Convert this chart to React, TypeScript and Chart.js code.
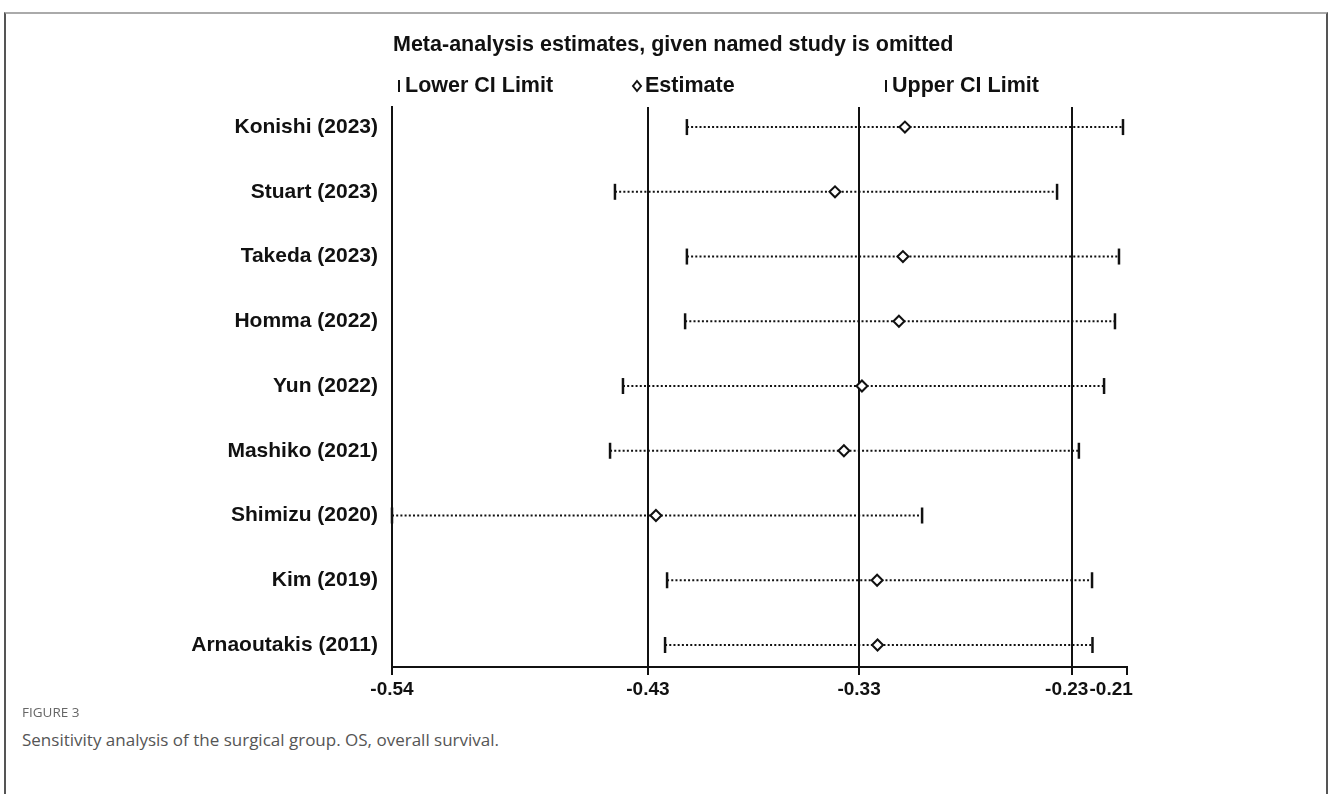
import React, { useEffect, useRef } from "react";
import { Chart, registerables } from "chart.js";
Chart.register(...registerables);

const studies = ["Konishi (2023)", "Stuart (2023)", "Takeda (2023)", "Homma (2022)", "Yun (2022)", "Mashiko (2021)", "Shimizu (2020)", "Kim (2019)", "Arnaoutakis (2011)"];
const lowerCI = [-0.4076, -0.4399, -0.4076, -0.4084, -0.4363, -0.4421, -0.54, -0.4165, -0.4174];
const estimates = [-0.3097, -0.3411, -0.3106, -0.3124, -0.329, -0.3371, -0.4215, -0.3222, -0.322];
const upperCI = [-0.2118, -0.2414, -0.2136, -0.2154, -0.2203, -0.2316, -0.302, -0.2257, -0.2255];
const axisTickValues = [-0.54, -0.4251, -0.3303, -0.2347, -0.21];
const axisTickLabels = ["-0.54", "-0.43", "-0.33", "-0.23", "-0.21"];
const titleText = "Meta-analysis estimates, given named study is omitted";
const legendLabels = ["Lower CI Limit", "Estimate", "Upper CI Limit"];
const figureLabel = "FIGURE 3";
const captionText = "Sensitivity analysis of the surgical group. OS, overall survival.";

const FONT = '"Liberation Sans", Arial, sans-serif';
const INK = "#111";

const headerPlugin = {
  id: "header",
  afterDraw(chart: any) {
    const ctx = chart.ctx;
    ctx.save();
    ctx.fillStyle = INK;
    ctx.strokeStyle = INK;
    ctx.textBaseline = "alphabetic";
    ctx.font = `bold 21.5px ${FONT}`;
    ctx.fillText(titleText, 393, 51);
    ctx.font = `bold 21.5px ${FONT}`;
    // lower CI marker
    ctx.lineWidth = 2;
    ctx.beginPath();
    ctx.moveTo(399, 80);
    ctx.lineTo(399, 92);
    ctx.stroke();
    ctx.fillText(legendLabels[0], 405, 92);
    // estimate marker
    ctx.beginPath();
    ctx.moveTo(637, 81);
    ctx.lineTo(641, 86);
    ctx.lineTo(637, 91);
    ctx.lineTo(633, 86);
    ctx.closePath();
    ctx.stroke();
    ctx.fillText(legendLabels[1], 645, 92);
    // upper CI marker
    ctx.beginPath();
    ctx.moveTo(886, 80);
    ctx.lineTo(886, 92);
    ctx.stroke();
    ctx.fillText(legendLabels[2], 892, 92);
    ctx.restore();
  },
};

export default function App() {
  const ref = useRef<HTMLCanvasElement | null>(null);
  useEffect(() => {
    if (!ref.current) return;
    const ciSets = studies.map((s, i) => ({
      type: "scatter",
      label: s,
      data: [
        { x: lowerCI[i], y: i },
        { x: upperCI[i], y: i },
      ],
      showLine: true,
      borderColor: INK,
      borderWidth: 2,
      borderDash: [2, 2.2],
      pointRadius: 0,
      order: 3,
      clip: false,
    }));
    const chart = new Chart(ref.current, {
      type: "scatter",
      data: {
        datasets: [
          ...ciSets,
          {
            label: "Lower CI Limit",
            data: lowerCI.map((v, i) => ({ x: v, y: i })),
            pointStyle: "line",
            rotation: 90,
            pointRadius: 8,
            borderWidth: 2.5,
            borderColor: INK,
            order: 2,
            clip: false,
          },
          {
            label: "Upper CI Limit",
            data: upperCI.map((v, i) => ({ x: v, y: i })),
            pointStyle: "line",
            rotation: 90,
            pointRadius: 8,
            borderWidth: 2.5,
            borderColor: INK,
            order: 2,
            clip: false,
          },
          {
            label: "Estimate",
            data: estimates.map((v, i) => ({ x: v, y: i })),
            pointStyle: "rectRot",
            pointRadius: 5.5,
            borderWidth: 2,
            borderColor: INK,
            backgroundColor: "#fff",
            order: 1,
            clip: false,
          },
        ] as any,
      },
      options: {
        animation: false,
        responsive: false,
        devicePixelRatio: 1,
        layout: { padding: { left: 0, right: 201, top: 107, bottom: 0 } },
        plugins: { legend: { display: false }, tooltip: { enabled: false }, title: { display: false } },
        scales: {
          x: {
            type: "linear",
            min: -0.54,
            max: -0.21,
            afterBuildTicks: (s: any) => {
              s.ticks = axisTickValues.map((v) => ({ value: v }));
            },
            afterFit: (s: any) => {
              s.height = 40;
            },
            ticks: {
              autoSkip: false,
              maxRotation: 0,
              padding: 3,
              color: INK,
              font: { family: FONT, size: 19, weight: "bold" },
              callback: (_v: any, i: number) => {
                const n = axisTickLabels.length;
                if (i === n - 1) return axisTickLabels[i] + "      ";
                if (i === n - 2) return axisTickLabels[i] + "  ";
                return axisTickLabels[i];
              },
            },
            grid: {
              color: (c: any) => (c.index >= 1 && c.index <= 3 ? INK : "rgba(0,0,0,0)"),
              lineWidth: 2,
              drawTicks: true,
              tickLength: 8,
              tickColor: INK,
              tickWidth: 2,
            },
            border: { display: true, color: INK, width: 2 },
          },
          y: {
            type: "linear",
            reverse: true,
            min: -0.31,
            max: 8.34,
            afterBuildTicks: (s: any) => {
              s.ticks = studies.map((_, i) => ({ value: i }));
            },
            afterFit: (s: any) => {
              s.width = 392;
            },
            ticks: {
              autoSkip: false,
              padding: 14,
              color: INK,
              font: { family: FONT, size: 21, weight: "bold" },
              callback: (_v: any, i: number) => studies[i],
            },
            grid: { display: false, drawTicks: false },
            border: { display: true, color: INK, width: 2 },
          },
        },
      } as any,
      plugins: [headerPlugin],
    });
    return () => chart.destroy();
  }, []);

  return (
    <div style={{ position: "fixed", left: 0, top: 0, width: 1328, height: 794, background: "#fff", overflow: "hidden" }}>
      <div
        style={{
          position: "absolute",
          left: 4,
          top: 12,
          width: 1320,
          height: 800,
          borderTop: "2px solid #aaa",
          borderLeft: "2px solid #555",
          borderRight: "2px solid #555",
        }}
      />
      <canvas ref={ref} width={1328} height={707} style={{ position: "absolute", left: 0, top: 0 }} />
      <div
        style={{
          position: "absolute",
          left: 22,
          top: 703,
          fontFamily: '"Open Sans", sans-serif',
          fontSize: 13.5,
          color: "#666",
        }}
      >
        {figureLabel}
      </div>
      <div
        style={{
          position: "absolute",
          left: 22,
          top: 728,
          fontFamily: '"Open Sans", sans-serif',
          fontSize: 17,
          color: "#555",
        }}
      >
        {captionText}
      </div>
    </div>
  );
}
